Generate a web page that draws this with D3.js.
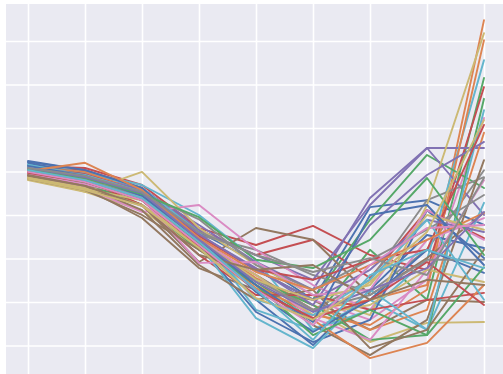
<!DOCTYPE html>
<html>
<head>
<meta charset="utf-8">
<script src="https://cdn.jsdelivr.net/npm/d3@7"></script>
<style>
  html, body { margin: 0; padding: 0; background: #fff; }
  svg { display: block; }
  .grid line { stroke: #fff; stroke-width: 1.6; }
  .grid .domain, .grid text { display: none; }
</style>
</head>
<body>
<div id="chart"></div>
<script>
// x positions (steps) and y grid values
const steps = [0, 1, 2, 3, 4, 5, 6, 7, 8];
const yTicks = [1, 2, 3, 4, 5, 6, 7, 8];

// seaborn "deep" palette, cycled over the series
const palette = ['#4C72B0', '#DD8452', '#55A868', '#C44E52', '#8172B3',
                 '#937860', '#DA8BC3', '#8C8C8C', '#CCB974', '#64B5CD'];

// one array per line, values at each step
const seriesA = [
  [5.15, 4.99, 4.57, 3.61, 2.92, 2.05, 4.18, 4.34, 3.77],
  [5.08, 4.92, 4.46, 3.43, 2.62, 1.82, 2.05, 2.39, 8.48],
  [4.99, 4.80, 4.34, 3.31, 2.46, 1.59, 3.20, 2.05, 7.15],
  [5.13, 5.08, 4.69, 3.70, 3.31, 3.75, 3.08, 2.74, 6.94],
  [4.99, 4.85, 4.57, 3.77, 2.92, 2.28, 4.39, 5.54, 5.54],
  [4.85, 4.62, 3.93, 2.78, 2.28, 2.05, 1.36, 2.05, 2.00],
  [4.92, 4.67, 4.23, 3.47, 2.74, 2.05, 1.59, 2.51, 6.23],
  [5.03, 4.85, 4.46, 3.54, 3.20, 2.62, 2.23, 3.20, 5.03],
  [4.80, 4.53, 4.11, 3.20, 2.28, 1.82, 1.08, 1.52, 1.54],
  [5.17, 4.99, 4.69, 4.00, 2.97, 1.36, 1.82, 2.97, 7.56]
];
const seriesB = [
  [5.22, 5.03, 4.57, 3.43, 2.05, 1.01, 2.28, 3.54, 3.24],
  [5.03, 4.85, 4.34, 3.24, 2.39, 1.70, 1.47, 2.28, 8.02],
  [5.08, 4.80, 4.39, 3.54, 2.74, 2.05, 3.89, 5.38, 4.62],
  [5.06, 5.03, 4.62, 3.66, 3.08, 3.43, 2.55, 4.11, 3.47],
  [5.08, 4.92, 4.62, 3.66, 3.08, 2.51, 4.23, 5.54, 4.00],
  [4.94, 4.71, 4.23, 2.92, 3.70, 3.43, 2.16, 3.01, 4.05],
  [4.87, 4.62, 4.07, 4.23, 3.20, 2.39, 1.82, 3.43, 3.93],
  [5.01, 4.76, 4.34, 3.38, 2.62, 1.82, 2.51, 4.34, 4.87],
  [4.90, 4.53, 4.99, 3.70, 2.85, 2.16, 1.70, 4.23, 8.18],
  [5.13, 4.99, 4.62, 3.61, 1.82, 1.36, 2.05, 1.36, 4.28]
];
const seriesC = [
  [5.20, 4.94, 4.46, 3.31, 1.77, 1.08, 1.59, 4.11, 3.01],
  [5.10, 4.99, 4.53, 3.43, 2.55, 1.93, 1.36, 1.82, 5.89],
  [4.97, 4.74, 4.23, 3.20, 2.51, 1.93, 1.13, 1.24, 6.67],
  [5.01, 4.80, 4.23, 3.08, 2.16, 2.16, 1.82, 2.05, 2.21],
  [5.03, 4.90, 4.53, 3.54, 2.78, 1.93, 3.77, 4.92, 5.68],
  [4.83, 4.57, 4.00, 3.20, 2.39, 1.47, 0.78, 1.59, 5.26],
  [4.94, 4.71, 4.39, 3.43, 2.62, 1.63, 1.13, 2.74, 4.80],
  [5.06, 4.90, 4.51, 3.90, 2.85, 2.28, 2.97, 3.66, 4.46],
  [4.87, 4.62, 4.23, 3.31, 2.62, 1.70, 1.93, 2.74, 2.46],
  [5.15, 4.92, 4.46, 3.31, 1.63, 0.94, 2.28, 1.36, 6.41]
];
const seriesD = [
  [5.24, 5.03, 4.62, 3.47, 2.23, 1.31, 2.05, 3.20, 2.67],
  [4.99, 4.76, 4.34, 3.31, 2.32, 1.59, 0.71, 1.06, 2.39],
  [5.03, 4.76, 4.34, 3.33, 2.39, 1.24, 1.82, 1.24, 2.80],
  [5.08, 4.94, 4.53, 3.52, 2.74, 2.51, 2.97, 3.20, 6.07],
  [5.10, 4.90, 4.57, 3.56, 2.74, 2.05, 2.74, 3.89, 3.61],
  [4.90, 4.67, 4.11, 2.85, 2.05, 2.28, 0.94, 1.36, 3.20],
  [4.97, 4.80, 4.39, 2.90, 2.92, 2.16, 2.28, 4.11, 3.43],
  [5.03, 4.80, 4.44, 3.38, 2.51, 1.82, 2.16, 2.97, 2.97],
  [4.85, 4.60, 4.34, 3.43, 2.51, 2.05, 2.39, 4.00, 3.66],
  [5.10, 4.92, 4.53, 3.47, 2.05, 1.70, 2.51, 3.89, 2.05]
];
const seriesE = [
  [5.13, 4.90, 4.44, 3.43, 2.39, 1.54, 4.00, 4.23, 2.85],
  [5.01, 5.20, 4.57, 3.47, 2.69, 2.28, 2.85, 3.43, 4.05],
  [5.06, 4.85, 4.48, 3.95, 2.97, 2.78, 3.43, 4.85, 3.08],
  [4.97, 4.76, 4.34, 3.29, 2.28, 1.63, 2.05, 2.92, 1.93],
  [5.08, 4.87, 4.51, 3.43, 2.46, 1.77, 2.28, 2.78, 4.07],
  [4.92, 4.67, 4.21, 3.08, 2.74, 2.85, 2.05, 2.51, 2.39],
  [4.99, 4.76, 4.34, 3.31, 2.28, 1.47, 2.85, 3.70, 3.77],
  [5.08, 4.90, 4.53, 3.61, 3.08, 2.69, 3.01, 2.62, 4.85],
  [4.83, 4.57, 4.21, 3.24, 2.09, 1.59, 2.46, 3.61, 6.18],
  [5.03, 4.80, 4.39, 3.38, 2.28, 1.13, 2.62, 3.20, 2.78]
];
const allSeries = [...seriesA, ...seriesB, ...seriesC, ...seriesD, ...seriesE];

const W = 503, H = 374;
// plot panel is cropped on the right and bottom
const panel = { left: 6, top: 4, right: W, bottom: H };

const svg = d3.select('#chart').append('svg')
  .attr('width', W)
  .attr('height', H);

const xScale = d3.scaleLinear().domain([0, 8]).range([28, 484]);
const yScale = d3.scaleLinear().domain([0, 8.85]).range([389, 4]);

svg.append('rect')
  .attr('x', panel.left)
  .attr('y', panel.top)
  .attr('width', panel.right - panel.left)
  .attr('height', panel.bottom - panel.top)
  .attr('fill', '#EAEAF2');

svg.append('clipPath').attr('id', 'panel-clip')
  .append('rect')
  .attr('x', panel.left)
  .attr('y', panel.top)
  .attr('width', panel.right - panel.left)
  .attr('height', panel.bottom - panel.top);

// grid
svg.append('g')
  .attr('class', 'grid')
  .attr('transform', `translate(0, ${panel.top})`)
  .call(d3.axisBottom(xScale).tickValues(steps).tickSize(panel.bottom - panel.top).tickFormat(''));

svg.append('g')
  .attr('class', 'grid')
  .attr('transform', `translate(${panel.left}, 0)`)
  .call(d3.axisRight(yScale).tickValues(yTicks).tickSize(panel.right - panel.left).tickFormat(''));

const line = d3.line()
  .x((d, i) => xScale(steps[i]))
  .y(d => yScale(d));

svg.append('g')
  .attr('clip-path', 'url(#panel-clip)')
  .selectAll('path')
  .data(allSeries)
  .enter()
  .append('path')
  .attr('d', line)
  .attr('fill', 'none')
  .attr('stroke', (d, i) => palette[i % palette.length])
  .attr('stroke-width', 1.9)
  .attr('stroke-linejoin', 'round')
  .attr('stroke-linecap', 'round');
</script>
</body>
</html>
